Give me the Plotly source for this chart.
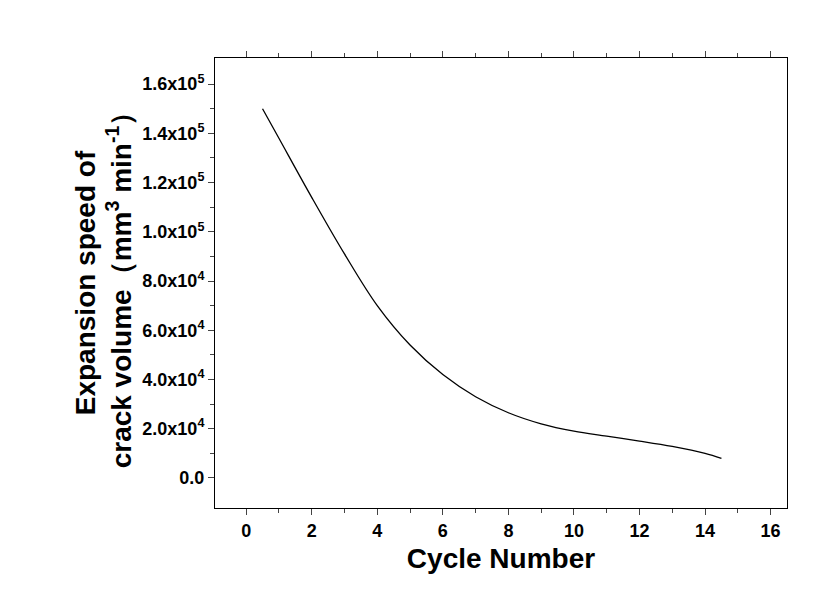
import plotly.graph_objects as go

cycles = [0.5, 1, 2, 3, 4, 5, 6, 7, 8, 9, 10, 11, 12, 13, 14, 14.5]
speed = [150000, 138000, 114000, 91000, 70000, 54000, 42000, 33000, 26500, 22000, 19000, 17000, 15000, 12800, 10000, 8000]
ytickvals = [0, 20000, 40000, 60000, 80000, 100000, 120000, 140000, 160000]
yticktext = ["0.0", "2.0x10<sup>4</sup>", "4.0x10<sup>4</sup>", "6.0x10<sup>4</sup>", "8.0x10<sup>4</sup>",
             "1.0x10<sup>5</sup>", "1.2x10<sup>5</sup>", "1.4x10<sup>5</sup>", "1.6x10<sup>5</sup>"]
xtickvals = list(range(0, 17, 2))

fig = go.Figure(go.Scatter(x=cycles, y=speed, mode="lines",
                           line=dict(color="black", width=1.3, shape="spline", smoothing=1.0)))
fnt = "Liberation Sans"
fig.update_layout(
    width=821, height=592, plot_bgcolor="white", paper_bgcolor="white",
    margin=dict(l=207, r=42, t=50, b=92), showlegend=False,
    font=dict(family=fnt, color="black"),
)
fig.update_xaxes(range=[-0.95, 16.5], tickvals=xtickvals, ticktext=["<b>%d</b>" % v for v in xtickvals],
                 ticks="outside", ticklen=6, automargin=False,
                 minor=dict(tickvals=list(range(1, 17, 2)), ticks="outside", ticklen=4),
                 showline=True, linecolor="black", mirror="ticks", showgrid=False, zeroline=False,
                 tickfont=dict(size=18, family=fnt),
                 title=dict(text="<b>Cycle Number</b>", font=dict(size=28), standoff=8))
fig.update_yaxes(range=[-12200, 170600], tickvals=ytickvals, ticktext=["<b>%s</b>" % t for t in yticktext],
                 ticks="outside", ticklen=6, automargin=False,
                 minor=dict(tickvals=[10000 + 20000 * i for i in range(8)], ticks="outside", ticklen=4),
                 showline=True, linecolor="black", mirror=True, showgrid=False, zeroline=False,
                 tickfont=dict(size=18, family=fnt),
                 title=dict(text="<b>Expansion speed of<br>crack volume（mm<sup>3</sup> min<sup>-1</sup>）</b>",
                            font=dict(size=28), standoff=2))
fig.write_html("out.html")
